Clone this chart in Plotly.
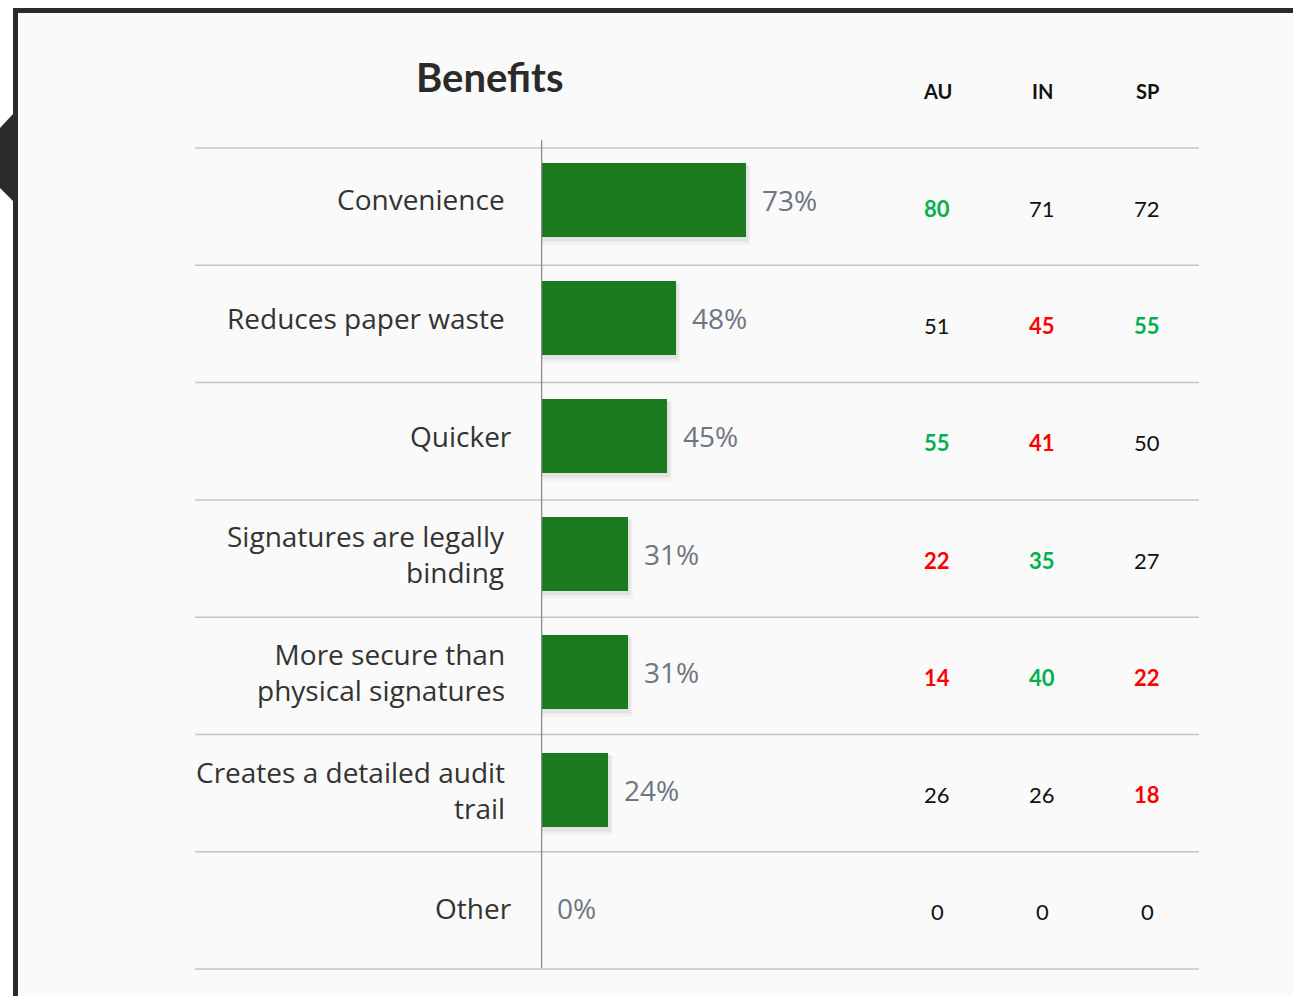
import plotly.graph_objects as go

# ---- data -------------------------------------------------------------
categories = [
    "Convenience",
    "Reduces paper waste",
    "Quicker",
    "Signatures are legally<br>binding",
    "More secure than<br>physical signatures",
    "Creates a detailed audit<br>trail",
    "Other",
]
total_pct = [73, 48, 45, 31, 31, 24, 0]

markets = ["AU", "IN", "SP"]
au_vals = [80, 51, 55, 22, 14, 26, 0]
in_vals = [71, 45, 41, 35, 40, 26, 0]
sp_vals = [72, 55, 50, 27, 22, 18, 0]
# significance flags: "+" above total, "-" below total, "" no difference
au_sig = ["+", "", "+", "-", "-", "", ""]
in_sig = ["", "-", "-", "+", "+", "", ""]
sp_sig = ["", "+", "", "", "-", "-", ""]

# ---- styling ----------------------------------------------------------
W, H = 1293, 996
BAR_GREEN = "#1a7b1e"
SIG_COLORS = {"+": "#00b050", "-": "#ff0000", "": "#111111"}
LABEL_FONT = "Open Sans"
TABLE_FONT = "Lato"
BAR_WIDTH = 0.63
# table grid (pixels): first rule and row pitch
GRID_TOP, GRID_PITCH = 148, 117.3
# bar band (pixels): top/bottom of the category axis
BAND_TOP, BAND_BOTTOM = 141, 967
label_nudge = [0, 0, 7, 0, 0, 0, 7]  # small horizontal nudge for some labels


def px(xp):
    return xp / W


def py(yp):
    return 1 - yp / H


n = len(categories)
idx = list(range(n))

fig = go.Figure()

# soft drop shadow beneath each bar
shapes = []
for i, v in enumerate(total_pct):
    if v <= 0:
        continue
    for k, a in ((1.6, 0.035), (0.9, 0.06)):
        shapes.append(dict(
            type="rect", xref="x", yref="y", layer="below",
            x0=0.3, x1=v + k,
            y0=i - BAR_WIDTH / 2 + 0.02, y1=i + BAR_WIDTH / 2 + 0.04 * k,
            fillcolor=f"rgba(0,0,0,{a})", line=dict(width=0),
        ))

fig.add_trace(go.Bar(
    x=total_pct, y=idx, orientation="h", width=BAR_WIDTH,
    marker=dict(color=BAR_GREEN, line=dict(width=0)),
    hoverinfo="skip", showlegend=False,
))

# frame around the card
shapes.insert(0, dict(type="rect", xref="paper", yref="paper", layer="below",
                      x0=px(15.5), x1=px(1310), y0=py(1010), y1=py(10.5),
                      fillcolor="#fafafa", line=dict(color="#2b2b2b", width=5)))
shapes.insert(1, dict(type="path", xref="paper", yref="paper", layer="below",
                      path=f"M {px(13)},{py(114)} L {px(0)},{py(128)} L {px(0)},{py(188)} "
                           f"L {px(13)},{py(201)} Z",
                      fillcolor="#2b2b2b", line=dict(width=0)))

# row separators
for k in range(n + 1):
    yy = py(GRID_TOP + GRID_PITCH * k)
    shapes.append(dict(type="line", xref="paper", yref="paper", layer="below",
                       x0=px(195), x1=px(1199), y0=yy, y1=yy,
                       line=dict(color="#c4c4c4", width=1.5)))
# category axis line
shapes.append(dict(type="line", xref="x", yref="paper", layer="above",
                   x0=0, x1=0, y0=py(968), y1=py(140),
                   line=dict(color="#8a8a8a", width=2.5)))

annotations = []
# title
annotations.append(dict(text="<b>Benefits</b>", xref="paper", yref="paper",
                        x=px(490), y=py(77), xanchor="center", yanchor="middle",
                        showarrow=False, font=dict(family=TABLE_FONT, size=40, color="#2a2a2a")))
# table headers
col_x = [937, 1042, 1147]
for m, cx in zip(markets, col_x):
    annotations.append(dict(text=f"<b>{m}</b>", xref="paper", yref="paper",
                            x=px(cx), y=py(91), xanchor="center", yanchor="middle",
                            showarrow=False, font=dict(family=TABLE_FONT, size=20, color="#111111")))

for i, (cat, v) in enumerate(zip(categories, total_pct)):
    # category label
    annotations.append(dict(text=cat, xref="paper", yref="y", x=px(507 + label_nudge[i]), y=i,
                            yshift=0.5, xanchor="right", yanchor="middle",
                            align="right", showarrow=False,
                            font=dict(family=LABEL_FONT, size=28, color="#333333")))
    # value label
    annotations.append(dict(text=f"{v}%", xref="x", yref="y", x=v, y=i, xshift=14,
                            yshift=0, xanchor="left", yanchor="middle", showarrow=False,
                            font=dict(family=LABEL_FONT, size=28, color="#6e7681")))
    # market columns, centred in each table row
    row_mid = py(GRID_TOP + GRID_PITCH * (i + 0.5) + 1.5)
    for vals, sig, cx in ((au_vals, au_sig, col_x[0]), (in_vals, in_sig, col_x[1]),
                          (sp_vals, sp_sig, col_x[2])):
        s = sig[i]
        txt = f"<b>{vals[i]}</b>" if s else str(vals[i])
        annotations.append(dict(text=txt, xref="paper", yref="paper", x=px(cx), y=row_mid,
                                xanchor="center", yanchor="middle", showarrow=False,
                                font=dict(family=TABLE_FONT, size=22, color=SIG_COLORS[s])))

fig.update_layout(
    width=W, height=H,
    margin=dict(l=0, r=0, t=0, b=0),
    paper_bgcolor="white", plot_bgcolor="rgba(0,0,0,0)",
    xaxis=dict(domain=[px(541), px(822)], range=[0, 100], visible=False, fixedrange=True),
    yaxis=dict(domain=[py(BAND_BOTTOM), py(BAND_TOP)], range=[n - 0.5, -0.5],
               visible=False, fixedrange=True),
    shapes=shapes, annotations=annotations,
    bargap=0, showlegend=False,
)

fig.write_html("out.html")
